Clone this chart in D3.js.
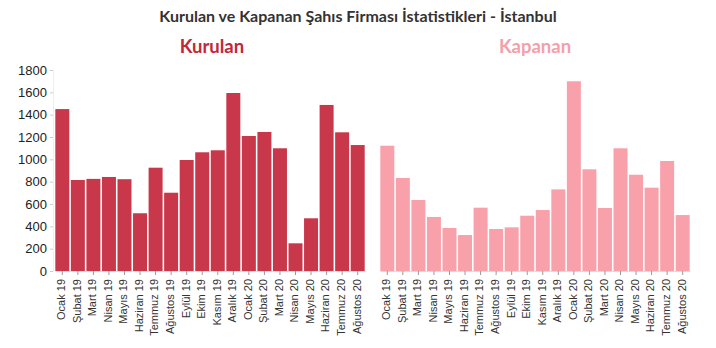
<!DOCTYPE html>
<html>
<head>
<meta charset="utf-8">
<script src="https://cdn.jsdelivr.net/npm/d3@7"></script>
<style>
  body { margin: 0; background: #fff; }
  svg { display: block; font-family: Lato, "Open Sans", sans-serif; }
</style>
</head>
<body>
<svg id="chart" width="716" height="348"></svg>
<script>
// Aylar (Ocak 2019 - Ağustos 2020)
const months = ["Ocak 19","Şubat 19","Mart 19","Nisan 19","Mayıs 19","Haziran 19","Temmuz 19","Ağustos 19","Eylül 19","Ekim 19","Kasım 19","Aralık 19","Ocak 20","Şubat 20","Mart 20","Nisan 20","Mayıs 20","Haziran 20","Temmuz 20","Ağustos 20"];
// Kurulan şahıs firması sayısı
const kurulan = [1450, 815, 825, 842, 822, 517, 925, 701, 994, 1063, 1081, 1594, 1209, 1245, 1099, 248, 472, 1487, 1242, 1128];
// Kapanan şahıs firması sayısı
const kapanan = [1122, 833, 636, 484, 385, 322, 567, 376, 391, 495, 546, 731, 1699, 911, 564, 1099, 862, 746, 985, 501];
const yTicks = [0, 200, 400, 600, 800, 1000, 1200, 1400, 1600, 1800];

const svg = d3.select("#chart");

svg.append("text")
  .attr("x", 358).attr("y", 22)
  .attr("text-anchor", "middle")
  .attr("font-size", 16).attr("font-weight", 700)
  .attr("fill", "#333")
  .text("Kurulan ve Kapanan Şahıs Firması İstatistikleri - İstanbul");

const y = d3.scaleLinear().domain([0, 1800]).range([271, 70]);

const panels = [
  { title: "Kurulan", values: kurulan, color: "#c8374a", titleColor: "#c1283a", x0: 55, x1: 365, titleX: 212, yAxis: true },
  { title: "Kapanan", values: kapanan, color: "#f9a1ab", titleColor: "#f4a0aa", x0: 380, x1: 690, titleX: 535, yAxis: false }
];

panels.forEach(p => {
  const x = d3.scaleBand().domain(months).range([p.x0, p.x1]).paddingInner(0.1).paddingOuter(0.02);
  const g = svg.append("g");

  g.append("text")
    .attr("x", p.titleX)
    .attr("y", 53)
    .attr("text-anchor", "middle")
    .attr("font-size", 18.5).attr("font-weight", 700)
    .attr("fill", p.titleColor)
    .text(p.title);

  g.selectAll("rect").data(p.values).join("rect")
    .attr("x", (d, i) => x(months[i]))
    .attr("y", d => y(d))
    .attr("width", x.bandwidth())
    .attr("height", d => y(0) - y(d))
    .attr("fill", p.color);

  const xAxis = g.append("g")
    .attr("transform", `translate(0,${y(0)})`)
    .call(d3.axisBottom(x).tickSize(4).tickSizeOuter(0));
  xAxis.select(".domain").attr("stroke", "#ddd");
  xAxis.selectAll(".tick line").attr("stroke", "#999");
  xAxis.selectAll(".tick text")
    .attr("font-size", 11).attr("fill", "#333")
    .attr("transform", "rotate(-90)")
    .attr("text-anchor", "end")
    .attr("x", -8).attr("y", -1)
    .attr("dy", "0.35em");

  if (p.yAxis) {
    const yAxis = g.append("g")
      .attr("transform", `translate(${p.x0 - 2},0)`)
      .call(d3.axisLeft(y).tickValues(yTicks).tickFormat(d3.format("d")).tickSize(3).tickSizeOuter(0));
    yAxis.select(".domain").attr("stroke", "#eee");
    yAxis.selectAll(".tick line").attr("stroke", "#ccc");
    yAxis.selectAll(".tick text").attr("font-size", 13).attr("fill", "#222");
  }
});
</script>
</body>
</html>
